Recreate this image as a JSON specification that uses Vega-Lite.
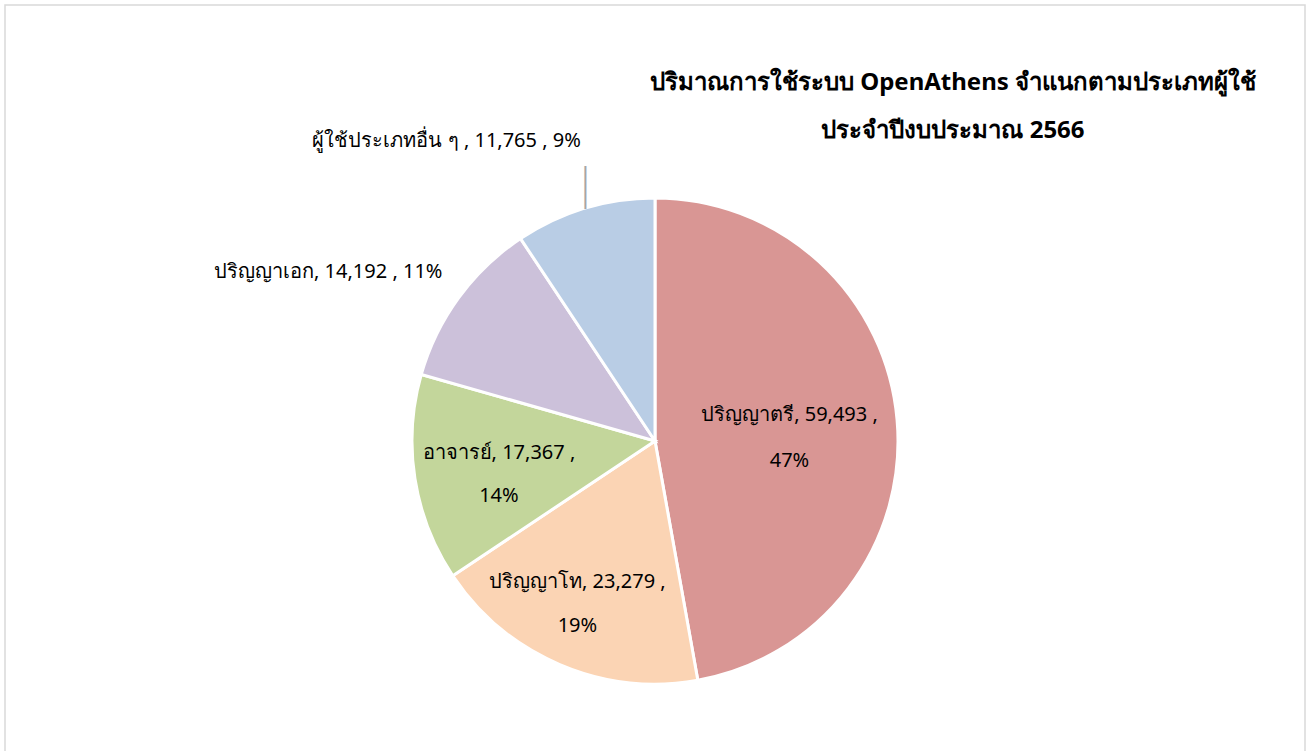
{
  "$schema": "https://vega.github.io/schema/vega-lite/v6.json",
  "autosize": {"type": "none"},
  "width": 1300,
  "height": 872,
  "padding": {"left": 5, "top": 5, "right": 6, "bottom": -126},
  "background": "white",
  "view": {"stroke": "#D9D9D9", "strokeWidth": 1.5},
  "config": {
    "view": {"stroke": "#D9D9D9", "strokeWidth": 1.5},
    "style": {"view": {"stroke": "#D9D9D9", "strokeWidth": 1.5}},
    "font": "Noto Sans"
  },
  "title": {
    "text": ["ปริมาณการใช้ระบบ OpenAthens จำแนกตามประเภทผู้ใช้", "ประจำปีงบประมาณ 2566"],
    "anchor": "middle",
    "frame": "group",
    "offset": 0,
    "baseline": "alphabetic",
    "dx": 298,
    "dy": 157,
    "font": "Noto Sans",
    "fontSize": 24,
    "fontWeight": "bold",
    "color": "#000000",
    "lineHeight": 48
  },
  "datasets": {
    "users": [
      {"seq": 1, "cat": "ปริญญาตรี", "n": 59493, "lab": ["ปริญญาตรี,  59,493 ,", "47%"]},
      {"seq": 2, "cat": "ปริญญาโท", "n": 23279, "lab": ["ปริญญาโท,  23,279 ,", "19%"]},
      {"seq": 3, "cat": "อาจารย์", "n": 17367, "lab": ["อาจารย์,  17,367 ,", "14%"]},
      {"seq": 4, "cat": "ปริญญาเอก", "n": 14192, "lab": ["ปริญญาเอก,  14,192 , 11%"]},
      {"seq": 5, "cat": "ผู้ใช้ประเภทอื่น ๆ", "n": 11765, "lab": ["ผู้ใช้ประเภทอื่น ๆ ,  11,765 , 9%"]}
    ]
  },
  "data": {"name": "users"},
  "encoding": {
    "theta": {"field": "n", "type": "quantitative", "stack": true},
    "order": {"field": "seq", "type": "quantitative"}
  },
  "layer": [
    {
      "mark": {"type": "arc", "outerRadius": 243, "stroke": "white", "strokeWidth": 3},
      "encoding": {
        "color": {
          "field": "cat",
          "type": "nominal",
          "legend": null,
          "scale": {
            "domain": ["ปริญญาตรี", "ปริญญาโท", "อาจารย์", "ปริญญาเอก", "ผู้ใช้ประเภทอื่น ๆ"],
            "range": ["#D99694", "#FBD4B4", "#C3D69B", "#CCC1DA", "#B9CDE5"]
          }
        }
      }
    },
    {
      "mark": {"type": "text", "fontSize": 20, "color": "#000000", "lineHeight": 46, "baseline": "middle", "dy": -14},
      "encoding": {
        "radius": {"value": 135},
        "text": {"condition": {"test": "datum.seq === 1", "field": "lab"}, "value": ""}
      }
    },
    {
      "mark": {"type": "text", "fontSize": 20, "color": "#000000", "lineHeight": 44, "baseline": "middle", "dx": -9, "dy": -20},
      "encoding": {
        "radius": {"value": 175},
        "text": {"condition": {"test": "datum.seq === 2", "field": "lab"}, "value": ""}
      }
    },
    {
      "mark": {"type": "text", "fontSize": 20, "color": "#000000", "lineHeight": 43, "baseline": "middle", "dx": 2, "dy": -13},
      "encoding": {
        "radius": {"value": 160},
        "text": {"condition": {"test": "datum.seq === 3", "field": "lab"}, "value": ""}
      }
    },
    {
      "mark": {"type": "text", "fontSize": 20, "color": "#000000", "baseline": "middle", "dx": -28, "dy": 49},
      "encoding": {
        "radius": {"value": 370},
        "text": {"condition": {"test": "datum.seq === 4", "field": "lab"}, "value": ""}
      }
    },
    {
      "mark": {"type": "text", "fontSize": 20, "color": "#000000", "baseline": "middle", "dx": -113, "dy": 16},
      "encoding": {
        "radius": {"value": 330},
        "text": {"condition": {"test": "datum.seq === 5", "field": "lab"}, "value": ""}
      }
    },
    {
      "mark": {"type": "text", "fontSize": 42, "font": "DejaVu Sans", "fontWeight": 200, "color": "#A6A6A6", "baseline": "middle", "dx": 7, "dy": -1},
      "encoding": {
        "radius": {"value": 265},
        "text": {"condition": {"test": "datum.seq === 5", "value": "|"}, "value": ""}
      }
    }
  ]
}
